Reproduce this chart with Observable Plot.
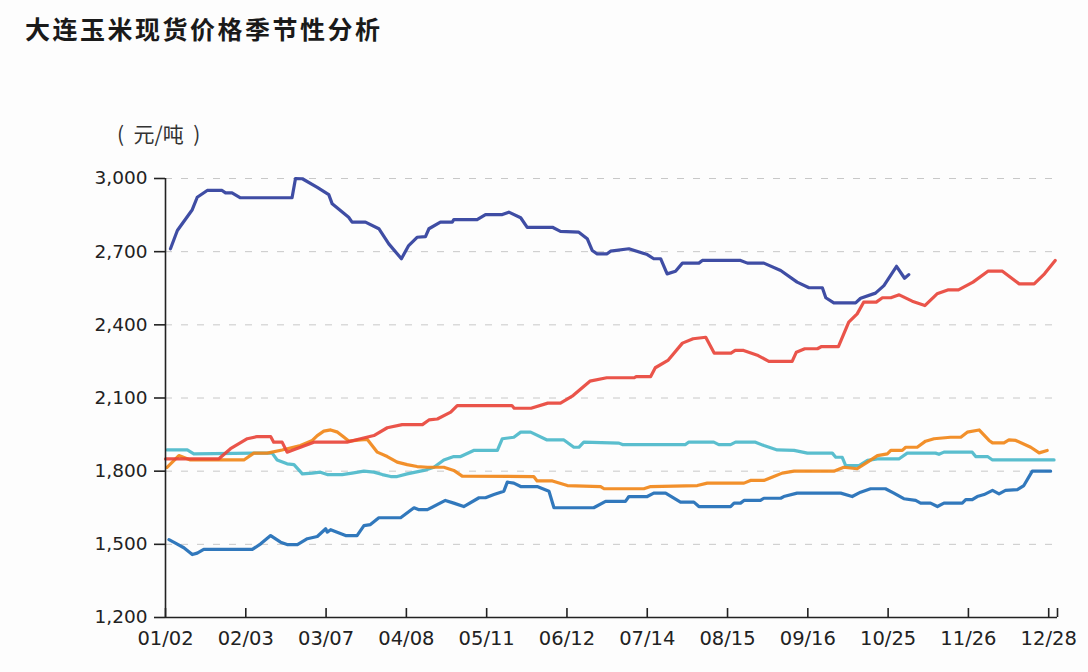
<!DOCTYPE html>
<html><head><meta charset="utf-8">
<script src="https://cdn.jsdelivr.net/npm/d3@7"></script>
<script src="https://cdn.jsdelivr.net/npm/@observablehq/plot@0.6"></script>
<style>
html,body{margin:0;padding:0;background:#fdfdfd;}
#wrap{position:relative;width:1088px;height:672px;overflow:hidden;}
#title{height:56px;line-height:56px;padding-left:25px;font-family:"Noto Sans CJK SC";font-weight:700;font-size:25px;letter-spacing:2.5px;color:#1a1a1a;}
#unit{position:absolute;left:117px;top:120px;line-height:26px;font-family:"Noto Sans CJK SC";font-size:21px;color:#333;white-space:pre;}
#chart svg{display:block;}
</style></head>
<body>
<div id="wrap">
  <div id="title">大连玉米现货价格季节性分析</div>
  <div id="unit">(  元/吨  )</div>
  <div id="chart"></div>
</div>
<script>
// x = trading-day index from the first trading day of the year
const tickDays   = [0, 21, 42, 63, 84, 105, 126, 147, 168, 189, 210, 231];
const tickLabels = ["01/02","02/03","03/07","04/08","05/11","06/12","07/14","08/15","09/16","10/25","11/26","12/28"];
const yTicks = [1200, 1500, 1800, 2100, 2400, 2700, 3000];
const seriesNames = ["2017", "2018", "2019", "2020", "2021"];

const s2017 = [[0.9,1519],[2.6,1505],[4.8,1486],[7.0,1458],[8.3,1464],[10.0,1479],[22.7,1479],[24.9,1502],[27.5,1536],[30.1,1509],[31.8,1499],[34.5,1499],[37.1,1523],[39.7,1532],[41.9,1564],[42.3,1550],[43.2,1560],[47.1,1536],[50.1,1536],[51.9,1577],[53.6,1581],[55.8,1609],[61.5,1609],[65.0,1650],[66.3,1642],[68.5,1642],[73.2,1680],[75.4,1669],[78.0,1655],[82.0,1691],[83.7,1691],[85.9,1704],[88.5,1718],[89.4,1755],[91.1,1751],[92.9,1737],[97.2,1737],[100.3,1718],[101.6,1650],[112.0,1650],[115.1,1676],[120.3,1676],[121.2,1696],[126.0,1696],[127.7,1710],[130.8,1710],[134.7,1673],[138.2,1673],[139.5,1655],[147.8,1655],[148.7,1669],[150.4,1669],[151.3,1680],[155.6,1680],[156.5,1689],[160.9,1689],[161.7,1696],[165.2,1710],[176.6,1710],[179.6,1696],[181.8,1714],[184.4,1728],[188.3,1728],[190.5,1710],[193.1,1687],[196.2,1680],[197.5,1669],[200.1,1669],[201.9,1655],[203.6,1669],[208.4,1669],[209.3,1683],[211.0,1683],[212.3,1696],[214.1,1704],[216.3,1721],[218.0,1707],[219.7,1721],[222.8,1724],[224.5,1741],[226.7,1800],[231.5,1800]];

const s2018 = [[0.4,1887],[5.7,1887],[7.4,1871],[23.1,1874],[27.9,1874],[29.2,1846],[31.8,1830],[33.6,1827],[35.8,1789],[38.4,1792],[40.5,1796],[42.3,1786],[46.2,1786],[48.8,1792],[51.9,1800],[54.5,1796],[56.7,1786],[58.9,1778],[60.6,1778],[63.2,1789],[67.6,1803],[70.2,1816],[72.8,1846],[75.4,1860],[77.2,1860],[80.6,1885],[86.8,1885],[88.1,1933],[91.1,1939],[92.9,1960],[95.5,1960],[99.8,1928],[104.2,1928],[106.8,1898],[108.1,1898],[109.4,1919],[118.6,1915],[119.5,1909],[136.0,1909],[136.8,1919],[143.4,1919],[144.7,1909],[147.8,1909],[149.1,1919],[154.3,1919],[156.5,1905],[160.0,1887],[164.4,1885],[167.9,1874],[174.4,1874],[175.3,1857],[177.0,1857],[177.9,1823],[181.4,1823],[183.6,1844],[186.2,1850],[191.8,1850],[194.0,1874],[201.4,1874],[202.3,1869],[203.6,1878],[211.0,1878],[211.9,1860],[215.0,1860],[216.3,1846],[232.4,1846]];

const s2019 = [[0.4,1816],[3.5,1864],[6.5,1846],[20.5,1846],[23.1,1874],[26.6,1874],[30.5,1887],[35.3,1905],[38.4,1926],[39.7,1946],[41.4,1964],[43.2,1969],[45.0,1960],[46.7,1939],[48.0,1923],[51.0,1928],[52.8,1930],[55.4,1878],[58.0,1860],[60.6,1837],[63.2,1827],[65.8,1819],[68.5,1816],[72.8,1816],[75.4,1803],[77.6,1780],[96.3,1778],[97.2,1760],[101.2,1760],[105.1,1741],[113.8,1737],[114.7,1728],[125.1,1728],[126.9,1737],[139.1,1741],[141.7,1751],[151.3,1751],[153.0,1762],[156.5,1762],[159.1,1778],[161.3,1792],[164.4,1800],[174.8,1800],[177.4,1816],[180.9,1810],[183.6,1837],[186.2,1864],[188.8,1871],[189.7,1885],[192.7,1885],[193.6,1898],[196.6,1898],[198.8,1923],[201.0,1933],[205.3,1939],[208.0,1939],[209.7,1960],[212.8,1969],[215.4,1926],[216.3,1916],[219.3,1916],[220.6,1928],[222.4,1926],[226.3,1898],[228.5,1875],[230.6,1885]];

const s2020 = [[0,1850],[13.9,1850],[17.0,1892],[21.4,1933],[24.0,1942],[27.5,1942],[28.3,1919],[30.5,1919],[31.8,1878],[35.3,1898],[38.8,1919],[47.5,1919],[51.0,1933],[54.5,1946],[58.0,1978],[61.9,1991],[67.2,1991],[68.9,2010],[71.1,2014],[74.6,2042],[76.3,2069],[90.6,2069],[91.2,2058],[95.6,2058],[100.0,2079],[103.3,2079],[106.6,2110],[111.0,2169],[115.4,2183],[122.6,2183],[123.1,2188],[126.9,2188],[128.1,2224],[131.4,2254],[135.2,2325],[138.0,2343],[141.3,2349],[143.5,2284],[147.9,2284],[149.0,2295],[151.2,2295],[155.0,2274],[157.8,2250],[163.9,2250],[165.0,2288],[167.2,2302],[170.5,2302],[171.6,2311],[176.0,2311],[178.7,2411],[180.9,2445],[182.6,2493],[185.9,2493],[187.5,2511],[189.7,2511],[191.9,2523],[195.3,2497],[198.6,2479],[201.8,2527],[204.6,2543],[207.4,2543],[211.2,2575],[215.1,2620],[218.9,2620],[223.3,2568],[227.2,2568],[229.9,2609],[232.7,2664]];

const s2021 = [[1.3,2712],[3.1,2787],[7.0,2872],[8.3,2923],[10.9,2951],[14.8,2951],[15.7,2941],[17.4,2941],[19.6,2921],[33.1,2921],[34.0,3000],[35.8,2999],[39.7,2964],[42.7,2934],[43.6,2896],[47.9,2841],[48.8,2821],[52.3,2821],[55.8,2794],[58.4,2732],[61.7,2671],[63.6,2725],[65.8,2759],[68.0,2762],[68.9,2794],[71.9,2821],[75.0,2821],[75.4,2831],[81.5,2831],[83.7,2852],[88.1,2852],[89.8,2862],[92.9,2839],[94.6,2800],[101.2,2800],[103.3,2783],[108.1,2780],[110.3,2753],[111.6,2705],[112.9,2691],[115.5,2691],[116.4,2702],[121.2,2712],[126.0,2688],[127.7,2671],[129.5,2671],[131.2,2609],[133.4,2620],[135.2,2653],[139.5,2653],[140.4,2664],[150.4,2664],[152.2,2653],[156.5,2653],[160.9,2623],[165.2,2575],[168.3,2552],[171.8,2552],[172.7,2511],[174.8,2490],[180.5,2490],[181.8,2509],[185.7,2530],[187.9,2561],[191.2,2640],[193.3,2591],[194.4,2606]];

const seriesData = [s2017, s2018, s2019, s2020, s2021];
const palette = ["#1f6cb6", "#4cb9ca", "#f18719", "#e8453b", "#2f3e9c"];
const axisEnd = 233.3;

const rows = seriesData.flatMap((s, k) => s.map(([day, price]) => ({series: seriesNames[k], day, price})));

const chart = Plot.plot({
  width: 1088,
  height: 616,
  marginLeft: 165,
  marginRight: 31,
  marginTop: 122,
  marginBottom: 55,
  style: {fontFamily: "DejaVu Sans", background: "transparent", color: "#222", overflow: "visible"},
  x: {domain: [0, axisEnd]},
  y: {domain: [yTicks[0], yTicks[yTicks.length - 1]]},
  color: {domain: seriesNames, range: palette},
  marks: [
    Plot.ruleY(yTicks.slice(1), {stroke: "#c8c8c8", strokeWidth: 1, strokeDasharray: "7,9"}),
    Plot.line(rows, {x: "day", y: "price", z: "series", stroke: "series", strokeWidth: 3.2, strokeOpacity: 0.92, strokeLinejoin: "round", strokeLinecap: "round"}),
    Plot.ruleX([0], {stroke: "#222", strokeWidth: 1.6}),
    Plot.ruleY([yTicks[0]], {stroke: "#222", strokeWidth: 1.6}),
    Plot.axisY({ticks: yTicks, tickFormat: d3.format(","), tickSize: 11, tickPadding: 7, fontSize: 18.5, label: null, stroke: "#222", strokeWidth: 1.6}),
    Plot.axisX({ticks: tickDays, tickFormat: d => tickLabels[tickDays.indexOf(d)], tickSize: 0, tickPadding: 14, fontSize: 19.5, label: null}),
    Plot.axisX({ticks: [...tickDays, axisEnd], tickSize: -9, fill: "none", label: null, stroke: "#222", strokeWidth: 1.6})
  ]
});
document.getElementById("chart").appendChild(chart);
</script>
</body></html>
